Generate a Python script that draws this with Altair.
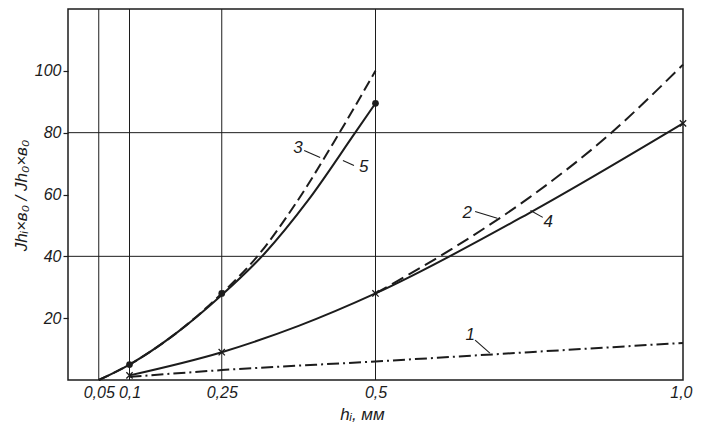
import altair as alt
import pandas as pd

# ---- data ----
c1_x = [0.1, 0.25, 0.5, 0.75, 1.0]
c1_y = [1.0, 3.2, 6.0, 9.0, 12.0]
c2_x = [0.5, 0.625, 0.75, 0.875, 1.0]
c2_y = [28.0, 42.5, 59.0, 78.5, 102.0]
c3_x = [0.05, 0.1, 0.175, 0.25, 0.31, 0.37, 0.437, 0.5]
c3_y = [0.0, 5.0, 15.0, 28.0, 40.5, 57.0, 78.5, 100.0]
c4_x = [0.1, 0.25, 0.375, 0.5, 0.75, 1.0]
c4_y = [1.5, 9.0, 17.5, 28.0, 54.0, 83.0]
c5_x = [0.05, 0.1, 0.175, 0.25, 0.32, 0.39, 0.467, 0.5]
c5_y = [0.0, 5.0, 15.0, 27.5, 41.0, 58.0, 80.0, 89.5]

dot_x = [0.1, 0.25, 0.5]
dot_y = [5.0, 28.0, 89.5]
cross_x = [0.1, 0.25, 0.5, 1.0]
cross_y = [1.5, 9.0, 28.0, 83.0]

x_ticks = [0.05, 0.1, 0.25, 0.5, 1.0]
x_tick_labels = ["0,05", "0,1", "0,25", "0,5", "1,0"]
y_ticks = [20, 40, 60, 80, 100]
x_grid = [0.05, 0.1, 0.25, 0.5]
y_grid = [40, 80]

lab_text = ["1", "2", "3", "4", "5"]
lab_x = [0.654, 0.649, 0.374, 0.781, 0.481]
lab_y = [14.5, 54.0, 75.0, 51.0, 69.0]
lead_x1 = [0.662, 0.662, 0.384, 0.752, 0.447]
lead_y1 = [12.9, 54.5, 74.2, 54.8, 71.0]
lead_x2 = [0.686, 0.698, 0.410, 0.772, 0.465]
lead_y2 = [8.7, 52.3, 72.0, 52.6, 69.4]

FONT = "Liberation Sans, Arial, sans-serif"
INK = "#1c1c1c"

xs = alt.Scale(domain=[0, 1.0], nice=False, zero=False)
ys = alt.Scale(domain=[0, 120], nice=False)

label_expr = " : ".join(
    f"datum.value == {v} ? '{t}'" for v, t in zip(x_ticks, x_tick_labels)
) + " : ''"

def curve(xv, yv, dash=None):
    df = pd.DataFrame({"x": xv, "y": yv})
    kw = dict(color=INK, strokeWidth=2, interpolate="monotone")
    if dash:
        kw["strokeDash"] = dash
    return alt.Chart(df).mark_line(**kw).encode(
        x=alt.X("x:Q", scale=xs), y=alt.Y("y:Q", scale=ys)
    )

base = alt.Chart(pd.DataFrame({"x": [0.0], "y": [0.0]})).mark_point(opacity=0).encode(
    x=alt.X("x:Q", scale=xs, axis=alt.Axis(
        values=x_ticks, labelExpr=label_expr, ticks=False, domain=False, grid=False,
        labelFont=FONT, labelFontStyle="italic", labelFontSize=16, labelColor=INK,
        labelPadding=4, labelFlush=True, labelFlushOffset=9,
        title="hᵢ, мм", titleFont=FONT, titleFontStyle="italic", titleFontSize=17,
        titleFontWeight="normal", titleColor=INK, titleX=294, titleY=34,
        titleBaseline="middle")),
    y=alt.Y("y:Q", scale=ys, axis=alt.Axis(
        values=y_ticks, ticks=True, tickSize=5, tickColor=INK, tickWidth=1.2,
        domain=False, grid=False,
        labelFont=FONT, labelFontStyle="italic", labelFontSize=16, labelColor=INK,
        labelPadding=2,
        title="Jhᵢ×в₀ / Jh₀×в₀", titleFont=FONT, titleFontStyle="italic",
        titleFontSize=17, titleFontWeight="normal", titleColor=INK,
        titleX=-47, titleY=186, titleAngle=-90, titleAlign="center",
        titleBaseline="middle")),
)

vgrid = alt.Chart(pd.DataFrame({"x": x_grid})).mark_rule(color=INK, strokeWidth=1).encode(
    x=alt.X("x:Q", scale=xs))
hgrid = alt.Chart(pd.DataFrame({"y": y_grid})).mark_rule(color=INK, strokeWidth=1).encode(
    y=alt.Y("y:Q", scale=ys))

l1 = curve(c1_x, c1_y, [12, 4, 2, 4])
l2 = curve(c2_x, c2_y, [13, 6])
l3 = curve(c3_x, c3_y, [11, 5])
l4 = curve(c4_x, c4_y)
l5 = curve(c5_x, c5_y)

dots = alt.Chart(pd.DataFrame({"x": dot_x, "y": dot_y})).mark_point(
    filled=True, color=INK, size=45, opacity=1).encode(
    x=alt.X("x:Q", scale=xs), y=alt.Y("y:Q", scale=ys))
crosses = alt.Chart(pd.DataFrame({"x": cross_x, "y": cross_y})).mark_point(
    shape="M-1,-1L1,1M1,-1L-1,1", filled=False, color=INK, size=40,
    strokeWidth=1.3, opacity=1).encode(
    x=alt.X("x:Q", scale=xs), y=alt.Y("y:Q", scale=ys))

ann = pd.DataFrame({"t": lab_text, "x": lab_x, "y": lab_y,
                    "x1": lead_x1, "y1": lead_y1, "x2": lead_x2, "y2": lead_y2})
labels = alt.Chart(ann).mark_text(
    font=FONT, fontStyle="italic", fontSize=17, color=INK).encode(
    x=alt.X("x:Q", scale=xs), y=alt.Y("y:Q", scale=ys), text="t:N")
leaders = alt.Chart(ann).mark_rule(color=INK, strokeWidth=1.1).encode(
    x=alt.X("x1:Q", scale=xs), y=alt.Y("y1:Q", scale=ys),
    x2="x2:Q", y2="y2:Q")

chart = alt.layer(base, vgrid, hgrid, l1, l2, l3, l4, l5, dots, crosses,
                  leaders, labels).properties(
    width=615, height=371,
    autosize=alt.AutoSizeParams(type="none"),
    padding={"left": 60, "top": 1, "right": 10, "bottom": 45},
    background="white",
).configure_view(stroke=INK, strokeWidth=1.5)

chart.save("out.html", embed_options={"renderer": "svg", "actions": False})
